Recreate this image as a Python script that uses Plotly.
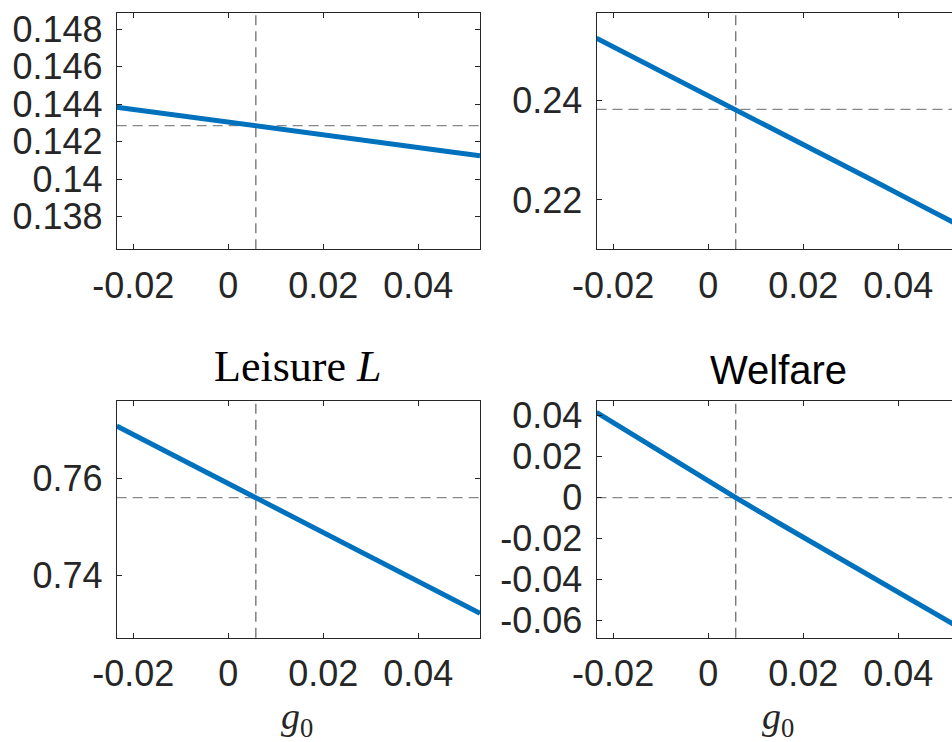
import plotly.graph_objects as go

# ---- data ----
g0 = [-0.0235, -0.015, -0.005, 0.0058, 0.015, 0.025, 0.035, 0.045, 0.053]
y_top_left = [0.14384, 0.14356, 0.14322, 0.14286, 0.14255, 0.14221, 0.14187, 0.14152, 0.14125]
y_top_right = [0.25257, 0.24842, 0.24354, 0.23827, 0.23369, 0.22873, 0.22376, 0.21877, 0.21479]
leisure = [0.77082, 0.76652, 0.76145, 0.75599, 0.75133, 0.74627, 0.74120, 0.73613, 0.73208]
welfare = [0.0416, 0.0294, 0.0151, 0.0, -0.0126, -0.0261, -0.0395, -0.0529, -0.0637]

g0_star = 0.0058
baselines = [0.14286, 0.23827, 0.75599, 0.0]

x_ticks = [-0.02, 0, 0.02, 0.04]
x_ticklabels = ["-0.02", "0", "0.02", "0.04"]
yticks_tl = [0.138, 0.14, 0.142, 0.144, 0.146, 0.148]
yticklabels_tl = ["0.138", "0.14", "0.142", "0.144", "0.146", "0.148"]
yticks_tr = [0.22, 0.24]
yticklabels_tr = ["0.22", "0.24"]
yticks_bl = [0.74, 0.76]
yticklabels_bl = ["0.74", "0.76"]
yticks_br = [-0.06, -0.04, -0.02, 0, 0.02, 0.04]
yticklabels_br = ["-0.06", "-0.04", "-0.02", "0", "0.02", "0.04"]

series = [y_top_left, y_top_right, leisure, welfare]

W, H = 952, 742
BLUE = "#0072BD"
AX = "#262626"
SANS = "Liberation Sans, Arial, Helvetica, sans-serif"
SERIF = "Liberation Serif, Times New Roman, serif"

xdom_left = [116.7 / W, 480 / W]
xdom_right = [596.5 / W, 1.0]
ydom_top = [1 - 249.3 / H, 1 - 13.3 / H]
ydom_bot = [1 - 637.7 / H, 1 - 401 / H]

panels = [
    dict(xd=xdom_left, yd=ydom_top, xr=[-0.0235, 0.053], yr=[0.13626, 0.14885],
         yt=yticks_tl, ytl=yticklabels_tl, ymirror="ticks"),
    dict(xd=xdom_right, yd=ydom_top, xr=[-0.0235, 0.0513], yr=[0.21007, 0.2576],
         yt=yticks_tr, ytl=yticklabels_tr, ymirror=False),
    dict(xd=xdom_left, yd=ydom_bot, xr=[-0.0235, 0.053], yr=[0.72703, 0.776],
         yt=yticks_bl, ytl=yticklabels_bl, ymirror="ticks"),
    dict(xd=xdom_right, yd=ydom_bot, xr=[-0.0235, 0.0513], yr=[-0.06837, 0.0472],
         yt=yticks_br, ytl=yticklabels_br, ymirror=False),
]

fig = go.Figure()
layout = dict(
    width=W, height=H, margin=dict(l=0, r=0, t=0, b=0),
    paper_bgcolor="white", plot_bgcolor="white", showlegend=False,
    font=dict(family=SANS, size=36, color=AX),
)
shapes = []
for i, p in enumerate(panels):
    n = "" if i == 0 else str(i + 1)
    xa, ya = "x" + n, "y" + n
    fig.add_trace(go.Scatter(x=g0, y=series[i], mode="lines", xaxis=xa, yaxis=ya,
                             line=dict(color=BLUE, width=5), hoverinfo="skip"))
    layout["xaxis" + n] = dict(
        domain=p["xd"], range=p["xr"], anchor=ya, tickvals=x_ticks, ticktext=x_ticklabels,
        ticks="inside", ticklen=5, tickcolor=AX, showline=True, linecolor=AX, linewidth=1,
        mirror="ticks", showgrid=False, zeroline=False, automargin=False,
        tickfont=dict(family=SANS, size=36, color=AX), ticklabelstandoff=4,
    )
    layout["yaxis" + n] = dict(
        domain=p["yd"], range=p["yr"], anchor=xa, tickvals=p["yt"], ticktext=p["ytl"],
        ticks="inside", ticklen=5, tickcolor=AX, showline=True, linecolor=AX, linewidth=1,
        mirror=p["ymirror"], showgrid=False, zeroline=False, automargin=False,
        tickfont=dict(family=SANS, size=36, color=AX), ticklabelstandoff=6,
    )
    shapes.append(dict(type="line", xref=xa, yref=ya + " domain", x0=g0_star, x1=g0_star,
                       y0=0, y1=1,
                       line=dict(color="rgba(70,70,70,0.85)", width=1.2, dash="10px,6px"),
                       layer="below"))
    shapes.append(dict(type="line", xref=xa + " domain", yref=ya, x0=0, x1=1,
                       y0=baselines[i], y1=baselines[i],
                       line=dict(color="rgba(115,115,115,0.85)", width=1.2, dash="10px,6px"),
                       layer="below"))
layout["shapes"] = shapes

annotations = [
    dict(text="Leisure <i>L</i>", x=297 / W, y=1 - 366 / H, xref="paper", yref="paper",
         showarrow=False, font=dict(family=SERIF, size=44, color="black"),
         xanchor="center", yanchor="middle"),
    dict(text="Welfare", x=778 / W, y=1 - 370 / H, xref="paper", yref="paper",
         showarrow=False, font=dict(family=SANS, size=40, color="black"),
         xanchor="center", yanchor="middle"),
    dict(text="<i>g</i><sub>0</sub>", x=297 / W, y=0, xref="paper", yref="paper",
         showarrow=False, font=dict(family=SERIF, size=38, color=AX),
         xanchor="center", yanchor="bottom", yshift=-3),
    dict(text="<i>g</i><sub>0</sub>", x=778 / W, y=0, xref="paper", yref="paper",
         showarrow=False, font=dict(family=SERIF, size=38, color=AX),
         xanchor="center", yanchor="bottom", yshift=-3),
]
layout["annotations"] = annotations
fig.update_layout(**layout)
fig.write_html(
    "out.html",
    config={"displayModeBar": False},
    post_script="document.body.style.margin='0';document.body.style.overflow='hidden';",
)
